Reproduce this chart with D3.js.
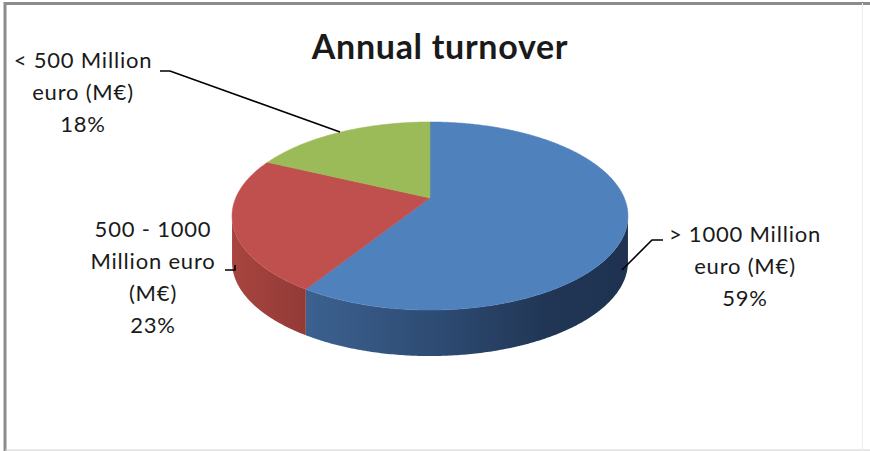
<!DOCTYPE html>
<html>
<head>
<meta charset="utf-8">
<script src="https://cdn.jsdelivr.net/npm/d3@7"></script>
<style>
  html, body { margin: 0; padding: 0; background: #fff; }
  svg { display: block; }
  text { font-family: Lato, "Open Sans", sans-serif; fill: #1a1a1a; }
</style>
</head>
<body>
<svg id="chart" width="870" height="451"></svg>
<script>
// Annual turnover split
const title = "Annual turnover";
const categories = ["> 1000 Million euro (M€)", "500 - 1000 Million euro (M€)", "< 500 Million euro (M€)"];
const shares = [59, 23, 18];
const labelLines = [
  ["> 1000 Million", "euro (M€)"],
  ["500 - 1000", "Million euro", "(M€)"],
  ["< 500 Million", "euro (M€)"]
];
const topColors = ["#4f81bd", "#c0504d", "#9bbb59"];

const W = 870, H = 451;
const svg = d3.select("#chart");

// frame
svg.append("rect").attr("x", 0).attr("y", 0).attr("width", W).attr("height", H).attr("fill", "#fff");
svg.append("path").attr("d", `M5,${H} V3.5 H${W}`).attr("fill", "none").attr("stroke", "#8c8c8c").attr("stroke-width", 3);
svg.append("line").attr("x1", 5).attr("x2", W).attr("y1", 450).attr("y2", 450).attr("stroke", "#d0d0d0").attr("stroke-width", 1);
svg.append("line").attr("x1", 862.5).attr("x2", 862.5).attr("y1", 3).attr("y2", H).attr("stroke", "#ededed").attr("stroke-width", 1);

// title
svg.append("text").attr("x", 440).attr("y", 59).attr("text-anchor", "middle")
  .style("font-weight", "bold").style("font-size", "34px").style("letter-spacing", "0.7px").text(title);

// perspective projection of the tilted disc
const cx = 430, cy = 198, A = 194.3, B = 90.6, k = 0.1915, depth = 46;
const proj = (t, z) => {
  const w = 1 + k * Math.cos(t);
  return [cx + A * Math.sin(t) / w, cy - B * Math.cos(t) / w + z];
};
const arcPts = (a0, a1, z) => {
  const n = Math.max(2, Math.ceil(Math.abs(a1 - a0) / 0.01));
  return d3.range(n + 1).map(i => proj(a0 + (a1 - a0) * i / n, z));
};

const pie = d3.pie().sort(null).value(d => d)(shares);
const line = d3.line();

// gradients for the side walls
const defs = svg.append("defs");
const sideStops = [
  [["0", "#3d6291"], ["0.4", "#2e4c74"], ["0.75", "#213655"], ["1", "#1e3150"]],
  [["0", "#a8453f"], ["1", "#933a37"]],
  [["0", "#7e9a47"], ["1", "#6a823b"]]
];
const sideRange = [[300, 630], [230, 305], [230, 305]];
sideStops.forEach((stops, i) => {
  const g = defs.append("linearGradient").attr("id", "side" + i)
    .attr("gradientUnits", "userSpaceOnUse")
    .attr("x1", sideRange[i][0]).attr("x2", sideRange[i][1]).attr("y1", 0).attr("y2", 0);
  stops.forEach(s => g.append("stop").attr("offset", s[0]).attr("stop-color", s[1]));
});

// visible front wall lies between the horizontal extremes of the rim
const frontStart = Math.acos(-k), frontEnd = 2 * Math.PI - Math.acos(-k);
const g = svg.append("g");
pie.forEach((p, i) => {
  const a0 = Math.max(p.startAngle, frontStart), a1 = Math.min(p.endAngle, frontEnd);
  if (a1 <= a0) return;
  const pts = arcPts(a0, a1, 0).concat(arcPts(a1, a0, depth));
  g.append("path").attr("d", line(pts) + "Z").attr("fill", `url(#side${i})`);
});

// top faces
pie.forEach((p, i) => {
  const pts = [[cx, cy]].concat(arcPts(p.startAngle, p.endAngle, 0));
  g.append("path").attr("d", line(pts) + "Z").attr("fill", topColors[i])
    .attr("stroke", topColors[i]).attr("stroke-width", 0.5);
});

// data labels with leader lines
const labelPos = [
  { x: 745, y: 242, leader: [[663, 240], [652, 240], [622, 270]] },
  { x: 153, y: 237, leader: [[225, 270], [235, 270], [235, 265]] },
  { x: 83, y: 68, leader: [[160, 71], [170, 71], [340, 132]] }
];
const lh = 32;
pie.forEach((p, i) => {
  const L = labelPos[i];
  svg.append("path").attr("d", line(L.leader)).attr("fill", "none")
    .attr("stroke", "#000").attr("stroke-width", 1.6);
  const t = svg.append("text").attr("text-anchor", "middle")
    .style("font-size", "22px").style("letter-spacing", "0.8px");
  const lines = labelLines[i].concat([shares[i] + "%"]);
  lines.forEach((s, j) => t.append("tspan").attr("x", L.x).attr("y", L.y + j * lh).text(s));
});
</script>
</body>
</html>
